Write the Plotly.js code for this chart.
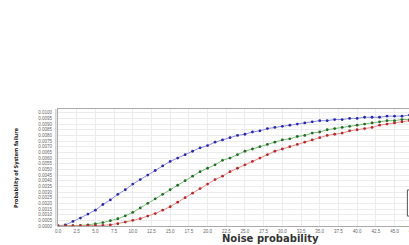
<!DOCTYPE html>
<html>
<head>
<meta charset="utf-8">
<script src="https://cdn.plot.ly/plotly-3.0.1.min.js"></script>
<style>
html,body{margin:0;padding:0;overflow:hidden;background:#fff;}
#chart{width:500px;height:245px;}
</style>
</head>
<body>
<div id="chart"></div>
<script>
var noiseX = [0,1,2,3,4,5,6,7,8,9,10,11,12,13,14,15,16,17,18,19,20,21,22,23,24,25,26,27,28,29,30,31,32,33,34,35,36,37,38,39,40,41,42,43,44,45,46,47,48];
var seriesBlue = [0,0.0001,0.0004,0.0007,0.00105,0.0014,0.0019,0.0023,0.0028,0.0032,0.0037,0.0041,0.0045,0.0049,0.0053,0.0057,0.0060,0.0063,0.0066,0.0069,0.0071,0.0074,0.0076,0.0078,0.0080,0.0081,0.0083,0.0084,0.0086,0.0087,0.0088,0.0089,0.0090,0.0091,0.0092,0.0093,0.0093,0.0094,0.0094,0.0095,0.0095,0.0096,0.0096,0.0096,0.0097,0.0097,0.0097,0.0098,0.0098];
var seriesGreen = [0,0,0.00002,0.00005,0.0001,0.00018,0.0003,0.00047,0.00064,0.0009,0.0012,0.0016,0.0020,0.0024,0.0028,0.0032,0.0036,0.0040,0.0044,0.0048,0.0051,0.0054,0.0058,0.0060,0.0063,0.0066,0.0068,0.0070,0.0072,0.0074,0.0076,0.0077,0.0079,0.0080,0.0082,0.0083,0.0085,0.0086,0.0087,0.0088,0.0089,0.0090,0.0091,0.0092,0.0093,0.0093,0.0094,0.0094,0.0095];
var seriesRed = [0,0,0,0.00001,0.00002,0.00004,0.00006,0.0001,0.0002,0.00035,0.0005,0.00065,0.00088,0.0011,0.0014,0.0017,0.0021,0.0025,0.0029,0.0033,0.0037,0.0041,0.0044,0.0048,0.0051,0.0054,0.0057,0.0060,0.0063,0.0066,0.0068,0.0070,0.0072,0.0074,0.0076,0.0078,0.0080,0.0081,0.0082,0.0084,0.0085,0.0086,0.0087,0.0089,0.0090,0.0091,0.0092,0.0093,0.0093];
var seriesNames = ["Series 1","Series 2","Series 3"];
var yTickVals = [0,0.0005,0.001,0.0015,0.002,0.0025,0.003,0.0035,0.004,0.0045,0.005,0.0055,0.006,0.0065,0.007,0.0075,0.008,0.0085,0.009,0.0095,0.01];
var yTickText = ["0.0000","0.0005","0.0010","0.0015","0.0020","0.0025","0.0030","0.0035","0.0040","0.0045","0.0050","0.0055","0.0060","0.0065","0.0070","0.0075","0.0080","0.0085","0.0090","0.0095","0.0100"];
var xTickVals = [0,2.5,5,7.5,10,12.5,15,17.5,20,22.5,25,27.5,30,32.5,35,37.5,40,42.5,45,47.5,50,52.5,55];
var xTickText = ["0.0","2.5","5.0","7.5","10.0","12.5","15.0","17.5","20.0","22.5","25.0","27.5","30.0","32.5","35.0","37.5","40.0","42.5","45.0","47.5","50.0","52.5","55.0"];

function mk(y, name, lc, mc){
  return {x: noiseX, y: y, name: name, type:'scatter', mode:'lines+markers',
    line:{color:lc, width:1}, marker:{color:mc, size:2.8, symbol:'circle'}};
}
var data = [
  mk(seriesBlue, seriesNames[0], '#8c8ce6', '#2a2aa8'),
  mk(seriesGreen, seriesNames[1], '#7cbf7c', '#256b25'),
  mk(seriesRed, seriesNames[2], '#e68c8c', '#b52a2a')
];
var layout = {
  width:500, height:245,
  margin:{l:58, r:18, t:109, b:19, autoexpand:false},
  paper_bgcolor:'#fff', plot_bgcolor:'#fff',
  showlegend:false,
  xaxis:{range:[0,56.7], tickvals:xTickVals, ticktext:xTickText, ticks:'', automargin:false,
    tickfont:{size:4.5, color:'#666', family:'Liberation Sans, Arial, sans-serif'},
    showgrid:true, gridcolor:'#ececec', gridwidth:1, zeroline:false,
    showline:true, linecolor:'#aaa', linewidth:1, mirror:true, ticklabelstandoff:1},
  yaxis:{range:[0,0.01033], tickvals:yTickVals, ticktext:yTickText, ticks:'', automargin:false,
    tickfont:{size:4.5, color:'#666', family:'Liberation Sans, Arial, sans-serif'},
    showgrid:true, gridcolor:'#ececec', gridwidth:1, zeroline:false,
    showline:true, linecolor:'#aaa', linewidth:1, mirror:true, ticklabelstandoff:4},
  shapes:[
    {type:'line', xref:'paper', yref:'paper', x0:-0.005, x1:-0.005, y0:0, y1:1, line:{color:'#bbb', width:1}},
    {type:'rect', xref:'paper', yref:'paper', x0:0.824, x1:0.98, y0:0.085, y1:0.308, line:{color:'#555', width:1}, fillcolor:'#fff', layer:'above'}
  ],
  annotations:[
    {text:'<b>Noise probability</b>', xref:'paper', yref:'paper', x:0.5, y:-0.111, xanchor:'center', yanchor:'middle',
      showarrow:false, font:{size:10, color:'#333', family:'DejaVu Sans, sans-serif'}},
    {text:'<b>Probability of System failure</b>', xref:'paper', yref:'paper', x:-0.098, xanchor:'center', y:0.5, yanchor:'middle',
      textangle:-90, showarrow:false, font:{size:5.5, color:'#222', family:'Liberation Sans Narrow, DejaVu Sans Condensed, sans-serif'}}
  ]
};
Plotly.newPlot('chart', data, layout, {displayModeBar:false, staticPlot:true});
</script>
</body>
</html>
